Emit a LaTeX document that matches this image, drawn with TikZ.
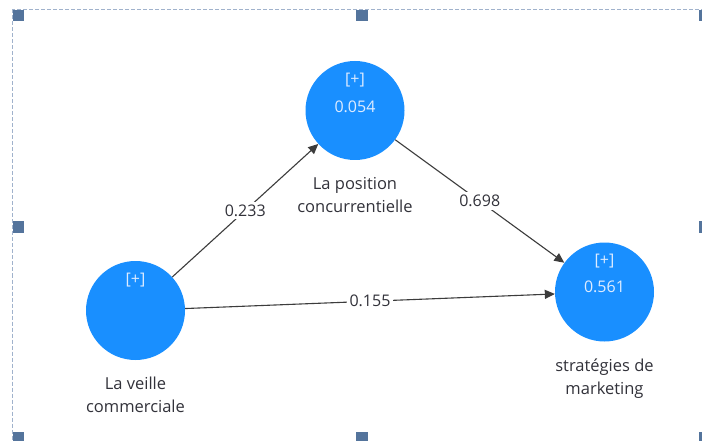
\documentclass[tikz,border=0pt]{standalone}
\usepackage{fontspec}
\setmainfont{Open Sans}
\usetikzlibrary{arrows.meta,positioning}
\definecolor{nodeblue}{RGB}{25,143,255}
\definecolor{nodetxt}{RGB}{222,236,255}
\definecolor{lbltxt}{RGB}{50,50,58}
\definecolor{edgeclr}{RGB}{60,60,60}
\definecolor{frameclr}{RGB}{160,178,204}
\definecolor{handleclr}{RGB}{84,116,156}
\tikzset{
  %% latent variable circle
  lv/.style={circle,fill=nodeblue,minimum size=99pt,inner sep=0pt},
  %% text inside the circle
  intxt/.style={font=\fontsize{16}{19}\selectfont,text=nodetxt,inner sep=0pt},
  %% caption under the circle
  captxt/.style={font=\fontsize{16.5}{23}\selectfont,text=lbltxt,align=center,inner sep=0pt},
  %% path arrows and coefficients
  arr/.style={-{Triangle[length=10pt,width=9pt]},line width=1.1pt,color=edgeclr},
  coef/.style={font=\fontsize{16}{19}\selectfont,text=lbltxt,fill=white,inner sep=3pt,midway},
  %% selection frame and handles
  selfrm/.style={draw=frameclr,dash pattern=on 4pt off 2pt,line width=1pt},
  hdl/.style={fill=handleclr},
}

\begin{document}
\begin{tikzpicture}[x=1pt,y=-1pt]
  \fill[white] (0,0) rectangle (702,441);
  \clip (0,0) rectangle (702,441);

  % selection frame
  \draw[selfrm] (12.5,9.5) rectangle (705,446);
  \foreach \hx/\hy in {12.5/10,356/10,699/10,12.5/221,699/221,12.5/432,356/432,699/432}
    \fill[hdl] (\hx,\hy) rectangle ++(11.5,11.5);

  % constructs
  \node[lv] (veille)   at (135.5,310.5) {};
  \node[lv] (position) at (355,110.5)   {};
  \node[lv] (strat)    at (604.5,292)   {};

  \node[intxt] (veillep)   at ([yshift=-19pt]veille.north)   {[+]};
  \node[intxt] (positionp) at ([yshift=-19.5pt]position.north) {[+]};
  \node[intxt] (positionr) at ([yshift=-46pt]position.north) {0.054};
  \node[intxt] (stratp)    at ([yshift=-19pt]strat.north)    {[+]};
  \node[intxt] (stratr)    at ([yshift=-45pt]strat.north)    {0.561};

  \node[captxt,below=17pt of veille]   (veillecap)   {La veille\\commerciale};
  \node[captxt,below=17pt of position] (positioncap) {La position\\concurrentielle};
  \node[captxt,below=17pt of strat]    (stratcap)    {stratégies de\\marketing};

  % paths
  \draw[arr] (veille) -- (position) node[coef] (c1) {0.233};
  \draw[arr] (position) -- (strat)  node[coef] (c2) {0.698};
  \draw[arr] (veille) -- (strat)    node[coef] (c3) {0.155};
\end{tikzpicture}
\end{document}
